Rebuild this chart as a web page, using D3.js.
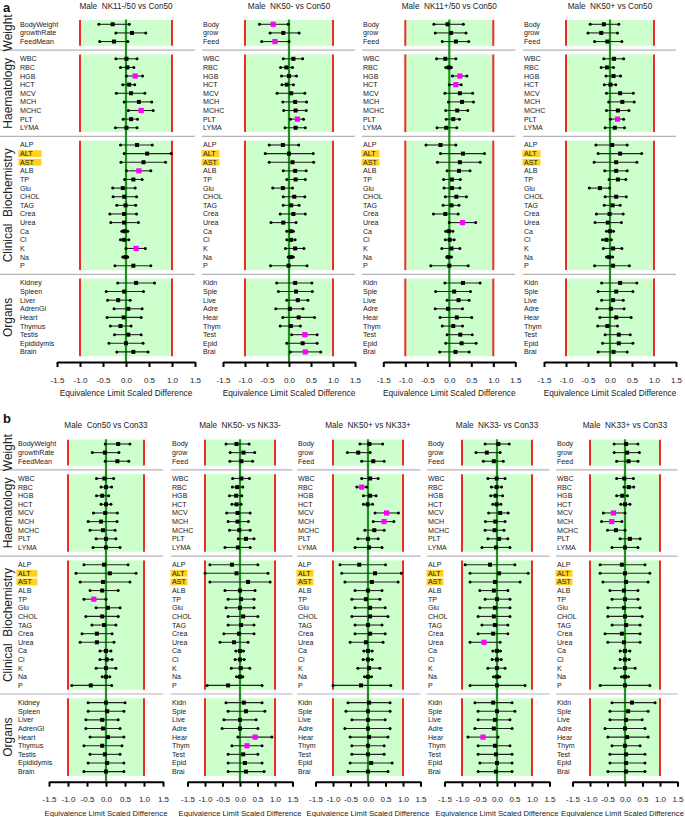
<!DOCTYPE html>
<html><head><meta charset="utf-8">
<script src="https://cdn.jsdelivr.net/npm/d3@7"></script>
<style>
body{margin:0;background:#fff;}
text{font-family:"Liberation Sans",Arial,Helvetica,sans-serif;fill:#111;}
</style>
</head><body>
<svg id="chart" width="685" height="817"></svg>
<script>
// ---------- categories ----------
const labelsFull = ["BodyWeight","growthRate","FeedMean",
  "WBC","RBC","HGB","HCT","MCV","MCH","MCHC","PLT","LYMA",
  "ALP","ALT","AST","ALB","TP","Glu","CHOL","TAG","Crea","Urea","Ca","Cl","K","Na","P",
  "Kidney","Spleen","Liver","AdrenGl","Heart","Thymus","Testis","Epididymis","Brain"];
const labelsShort = ["Body","grow","Feed",
  "WBC","RBC","HGB","HCT","MCV","MCH","MCHC","PLT","LYMA",
  "ALP","ALT","AST","ALB","TP","Glu","CHOL","TAG","Crea","Urea","Ca","Cl","K","Na","P",
  "Kidn","Sple","Live","Adre","Hear","Thym","Test","Epid","Brai"];
const groupNames = ["Weight","Haematology","Clinical  Biochemistry","Organs"];
const groupSizes = [3,9,15,9];
const highlighted = ["ALT","AST"];
const tickValues = [-1.5,-1.0,-0.5,0.0,0.5,1.0,1.5];
const axisTitle = "Equivalence Limit Scaled Difference";
const panelLetters = ["a","b"];
const titlesA = ["Male  NK11-/50 vs Con50","Male  NK50- vs Con50","Male  NK11+/50 vs Con50","Male  NK50+ vs Con50"];
const titlesB = ["Male  Con50 vs Con33","Male  NK50- vs NK33-","Male  NK50+ vs NK33+","Male  NK33- vs Con33","Male  NK33+ vs Con33"];

// ---------- series values: [lower, estimate, upper] per row ----------
const a1 = [[-0.59,-0.29,0.07],[-0.22,0.13,0.43],[-0.57,-0.26,0.04],
 [-0.22,0.01,0.24],[-0.12,0.03,0.17],[0.01,0.20,0.36],[-0.07,0.07,0.19],[-0.21,0.11,0.41],[-0.04,0.28,0.56],[0.05,0.33,0.59],[-0.06,0.11,0.25],[-0.23,0.01,0.24],
 [-0.12,0.24,0.57],[-0.04,0.46,0.98],[-0.11,0.38,0.86],[0.01,0.28,0.54],[-0.03,0.16,0.35],[-0.29,-0.07,0.20],[-0.28,-0.04,0.23],[-0.20,-0.01,0.21],[-0.35,-0.04,0.23],[-0.33,-0.04,0.27],[-0.09,-0.03,0.04],[-0.12,-0.04,0.06],[0.00,0.22,0.42],[-0.07,-0.01,0.04],[-0.24,0.16,0.54],
 [-0.18,0.22,0.62],[-0.43,-0.04,0.38],[-0.40,-0.17,0.09],[-0.26,0.05,0.35],[-0.41,-0.05,0.33],[-0.34,-0.12,0.11],[-0.25,0.05,0.33],[-0.37,0.00,0.37],[-0.20,0.16,0.48]];
const a1Sig = ["HGB","MCHC","ALB","K"];

const a2 = [[-0.67,-0.36,-0.02],[-0.43,-0.13,0.23],[-0.62,-0.32,0.00],
 [-0.13,0.10,0.31],[-0.19,-0.06,0.08],[-0.17,0.00,0.17],[-0.16,-0.05,0.10],[-0.27,0.05,0.36],[-0.14,0.14,0.40],[-0.12,0.15,0.39],[0.03,0.19,0.33],[-0.09,0.15,0.37],
 [-0.45,-0.14,0.22],[-0.54,0.00,0.55],[-0.45,0.08,0.56],[-0.13,0.14,0.39],[-0.05,0.15,0.37],[-0.37,-0.14,0.08],[-0.13,0.12,0.36],[-0.13,0.05,0.23],[-0.20,0.10,0.37],[-0.41,-0.13,0.16],[-0.05,0.04,0.10],[-0.05,0.05,0.14],[-0.08,0.14,0.34],[-0.02,0.04,0.10],[-0.42,-0.01,0.41],
 [-0.28,0.14,0.52],[-0.24,0.16,0.53],[-0.05,0.20,0.43],[-0.30,0.02,0.32],[-0.14,0.22,0.58],[-0.20,0.04,0.26],[0.06,0.36,0.64],[-0.05,0.31,0.64],[0.03,0.37,0.72]];
const a2Sig = ["BodyWeight","FeedMean","PLT","Testis","Brain"];

const a3 = [[-0.35,-0.04,0.32],[-0.32,0.04,0.38],[-0.16,0.15,0.44],
 [-0.29,-0.09,0.15],[-0.08,-0.01,0.05],[0.07,0.24,0.40],[0.00,0.15,0.27],[-0.10,0.24,0.53],[-0.02,0.29,0.55],[-0.08,0.18,0.42],[-0.07,0.09,0.23],[-0.28,-0.07,0.17],
 [-0.53,-0.20,0.15],[-0.20,0.31,0.80],[-0.27,0.24,0.70],[-0.05,0.22,0.47],[-0.13,0.06,0.25],[-0.12,0.06,0.24],[-0.09,0.16,0.39],[-0.14,0.05,0.22],[-0.36,-0.09,0.20],[0.00,0.30,0.60],[-0.08,-0.01,0.08],[-0.09,0.01,0.11],[-0.17,0.05,0.24],[-0.06,-0.02,0.05],[-0.42,0.00,0.43],
 [-0.10,0.31,0.70],[-0.31,0.11,0.48],[-0.05,0.21,0.45],[-0.32,-0.03,0.30],[-0.21,0.17,0.51],[-0.16,0.09,0.30],[-0.05,0.25,0.52],[-0.08,0.28,0.61],[-0.22,0.14,0.45]];
const a3Sig = ["HGB","HCT","Urea"];

const a4 = [[-0.45,-0.14,0.20],[-0.50,-0.20,0.17],[-0.35,-0.06,0.27],
 [-0.14,0.09,0.31],[-0.20,-0.07,0.08],[-0.09,0.08,0.24],[-0.13,0.01,0.13],[-0.08,0.23,0.53],[-0.03,0.28,0.55],[-0.08,0.18,0.43],[0.01,0.17,0.31],[-0.11,0.11,0.33],
 [-0.32,0.05,0.39],[-0.27,0.23,0.72],[-0.36,0.14,0.61],[-0.12,0.14,0.39],[-0.02,0.18,0.36],[-0.47,-0.23,-0.01],[-0.11,0.14,0.37],[-0.13,0.06,0.23],[-0.31,-0.01,0.30],[-0.34,-0.05,0.26],[-0.08,0.00,0.08],[-0.17,-0.08,0.03],[-0.15,0.07,0.27],[-0.08,-0.02,0.06],[-0.35,0.07,0.44],
 [-0.19,0.23,0.61],[-0.27,0.14,0.52],[-0.19,0.07,0.30],[-0.30,0.02,0.32],[-0.23,0.14,0.48],[-0.28,-0.06,0.17],[-0.11,0.20,0.46],[-0.17,0.20,0.52],[-0.27,0.08,0.39]];
const a4Sig = ["PLT"];

const b1 = [[-0.02,0.32,0.63],[-0.36,-0.03,0.34],[-0.02,0.30,0.60],
 [-0.25,-0.04,0.20],[-0.13,0.00,0.15],[-0.25,-0.10,0.07],[-0.13,0.00,0.13],[-0.33,-0.02,0.30],[-0.47,-0.13,0.29],[-0.42,-0.08,0.24],[-0.26,0.00,0.26],[-0.34,0.00,0.37],
 [-0.58,-0.05,0.58],[-0.79,0.10,0.79],[-0.68,-0.08,0.63],[-0.42,-0.10,0.32],[-0.58,-0.32,0.00],[-0.26,0.05,0.37],[-0.53,-0.10,0.32],[-0.37,-0.05,0.26],[-0.63,-0.24,0.16],[-0.68,-0.24,0.21],[-0.16,0.00,0.13],[-0.16,0.02,0.16],[-0.26,0.00,0.26],[-0.10,0.00,0.10],[-0.90,-0.40,0.15],
 [-0.47,0.00,0.50],[-0.47,0.03,0.47],[-0.53,-0.10,0.32],[-0.53,-0.08,0.37],[-0.42,0.05,0.47],[-0.58,-0.10,0.42],[-0.42,-0.03,0.37],[-0.47,0.03,0.47],[-0.58,0.00,0.47]];
const b1Sig = ["TP"];

const b2 = [[-0.40,-0.10,0.26],[-0.28,0.10,0.42],[-0.29,0.04,0.36],
 [-0.21,0.04,0.27],[-0.22,-0.08,0.08],[-0.30,-0.11,0.05],[-0.23,-0.10,0.03],[-0.38,-0.07,0.29],[-0.34,-0.07,0.24],[-0.30,-0.02,0.29],[-0.05,0.17,0.40],[-0.43,-0.06,0.29],
 [-0.86,-0.23,0.51],[-1.00,-0.10,0.80],[-0.86,0.23,0.86],[-0.43,0.00,0.43],[-0.34,0.03,0.40],[-0.40,0.00,0.40],[-0.34,0.09,0.51],[-0.34,0.03,0.40],[-0.46,-0.03,0.40],[-0.57,-0.17,0.23],[-0.12,0.00,0.10],[-0.14,0.00,0.12],[-0.25,0.02,0.28],[-0.10,0.00,0.08],[-0.94,-0.34,0.63],
 [-0.40,0.11,0.63],[-0.34,0.17,0.71],[-0.46,0.00,0.46],[-0.51,0.00,0.51],[-0.06,0.43,0.91],[-0.23,0.20,0.63],[-0.34,0.09,0.51],[-0.34,0.14,0.63],[-0.34,0.17,0.69]];
const b2Sig = ["Heart","Thymus"];

const b3 = [[-0.23,0.04,0.42],[-0.59,-0.28,0.06],[-0.18,0.15,0.46],
 [-0.18,0.06,0.29],[-0.32,-0.18,-0.04],[-0.13,0.06,0.23],[-0.13,-0.01,0.13],[0.20,0.53,0.87],[0.15,0.46,0.74],[-0.09,0.18,0.46],[-0.29,0.00,0.29],[-0.37,0.03,0.40],
 [-0.80,-0.25,0.50],[-0.75,0.20,0.95],[-0.66,0.11,0.86],[-0.37,0.00,0.40],[-0.46,-0.06,0.34],[-0.37,0.06,0.49],[-0.46,0.06,0.57],[-0.37,0.00,0.40],[-0.37,0.06,0.49],[-0.51,-0.06,0.43],[-0.12,0.00,0.12],[-0.14,0.00,0.12],[-0.29,0.03,0.34],[-0.10,0.00,0.10],[-1.00,-0.20,0.65],
 [-0.57,0.03,0.63],[-0.63,0.00,0.63],[-0.46,0.00,0.49],[-0.66,0.00,0.63],[-0.51,0.03,0.57],[-0.46,0.00,0.46],[-0.46,0.00,0.46],[-0.51,0.09,0.69],[-0.57,0.00,0.57]];
const b3Sig = ["RBC","MCV","MCH"];

const b4 = [[-0.34,0.04,0.35],[-0.60,-0.29,0.09],[-0.39,-0.09,0.18],
 [-0.26,-0.01,0.23],[-0.16,-0.01,0.13],[-0.18,-0.04,0.16],[-0.12,-0.01,0.11],[-0.24,0.09,0.32],[-0.33,-0.05,0.23],[-0.34,-0.07,0.20],[-0.26,0.06,0.31],[-0.43,-0.03,0.37],
 [-0.91,-0.20,0.51],[-0.77,0.06,0.89],[-0.77,-0.06,0.66],[-0.49,-0.09,0.31],[-0.34,0.00,0.37],[-0.49,-0.06,0.37],[-0.54,-0.09,0.37],[-0.43,-0.06,0.31],[-0.54,-0.11,0.31],[-0.77,-0.37,0.09],[-0.12,0.00,0.10],[-0.14,0.00,0.12],[-0.26,0.00,0.23],[-0.10,0.00,0.08],[-0.77,0.00,0.80],
 [-0.63,-0.11,0.43],[-0.54,0.00,0.51],[-0.54,-0.06,0.37],[-0.63,-0.09,0.43],[-0.83,-0.40,0.03],[-0.54,-0.06,0.37],[-0.54,-0.03,0.43],[-0.49,0.00,0.43],[-0.54,-0.03,0.43]];
const b4Sig = ["Urea","Heart"];

const b5 = [[-0.31,0.03,0.37],[-0.31,0.06,0.41],[-0.24,0.10,0.37],
 [-0.24,-0.02,0.24],[-0.03,0.11,0.25],[-0.24,-0.08,0.07],[-0.12,0.00,0.14],[-0.62,-0.33,0.00],[-0.67,-0.38,-0.09],[-0.50,-0.26,0.00],[-0.14,0.14,0.43],[-0.37,0.00,0.37],
 [-0.71,-0.09,0.57],[-0.71,0.00,0.71],[-0.63,0.03,0.66],[-0.43,-0.03,0.37],[-0.37,0.00,0.37],[-0.49,-0.03,0.43],[-0.49,0.00,0.49],[-0.37,0.03,0.43],[-0.57,-0.09,0.43],[-0.49,-0.03,0.43],[-0.14,0.00,0.14],[-0.14,0.00,0.12],[-0.29,0.00,0.29],[-0.10,0.00,0.10],[-0.71,0.00,0.71],
 [-0.37,0.20,0.86],[-0.43,0.09,0.66],[-0.43,0.03,0.49],[-0.57,0.00,0.57],[-0.49,0.06,0.66],[-0.37,0.00,0.43],[-0.43,0.03,0.57],[-0.43,0.03,0.57],[-0.49,0.03,0.57]];
const b5Sig = ["MCV","MCH"];

// ---------- layout (pixels) ----------
const panels = [
  {letter:panelLetters[0], yOff:0, letterY:12, axisFont:8.3, subs:[
    {data:a1, sig:a1Sig, title:titlesA[0], x0:126, u:46, labelX:20, sepStart:0, full:true, hlW:23},
    {data:a2, sig:a2Sig, title:titlesA[1], x0:289, u:44, labelX:203, sepStart:202, full:false, hlW:18},
    {data:a3, sig:a3Sig, title:titlesA[2], x0:449.3, u:44, labelX:363, sepStart:362, full:false, hlW:18},
    {data:a4, sig:a4Sig, title:titlesA[3], x0:610, u:44, labelX:524, sepStart:523, full:false, hlW:18}]},
  {letter:panelLetters[1], yOff:419.7, letterY:423, axisFont:7.7, subs:[
    {data:b1, sig:b1Sig, title:titlesB[0], x0:106, u:38, labelX:18, sepStart:0, full:true, hlW:21},
    {data:b2, sig:b2Sig, title:titlesB[1], x0:240, u:35, labelX:172, sepStart:171, full:false, hlW:17},
    {data:b3, sig:b3Sig, title:titlesB[2], x0:368, u:35, labelX:298, sepStart:297, full:false, hlW:17},
    {data:b4, sig:b4Sig, title:titlesB[3], x0:497, u:35, labelX:428, sepStart:427, full:false, hlW:17},
    {data:b5, sig:b5Sig, title:titlesB[4], x0:625, u:35, labelX:557, sepStart:556, full:false, hlW:17}]}
];

const svg = d3.select("#chart");
const SLOT0 = 24.3, SLOTN = 351.9, NSLOT = 38;

// slot index of each row (one blank slot between groups)
const slotOf = [];
groupSizes.forEach((n, g) => {
  const start = d3.sum(groupSizes.slice(0, g)) + g;
  for (let i = 0; i < n; i++) slotOf.push(start + i);
});
const groupRanges = groupSizes.map((n, g) => {
  const start = d3.sum(groupSizes.slice(0, g)) + g;
  return [start, start + n - 1];
});

panels.forEach(p => {
  svg.append("text").attr("x", 3).attr("y", p.letterY)
    .style("font-size", "13px").style("font-weight", "bold").text(p.letter);
  p.subs.forEach(s => {
    const g = svg.append("g");
    const x = d3.scaleLinear().domain([-1.5, 1.5]).range([s.x0 - 1.5 * s.u, s.x0 + 1.5 * s.u]);
    const y = d3.scaleLinear().domain([0, NSLOT]).range([p.yOff + SLOT0, p.yOff + SLOTN]);
    const axisY = p.yOff + 362;
    const labels = s.full ? labelsFull : labelsShort;

    // green equivalence boxes
    g.selectAll("rect.box").data(groupRanges).join("rect").attr("class", "box")
      .attr("x", x(-1)).attr("width", x(1) - x(-1))
      .attr("y", d => y(d[0] - 0.5)).attr("height", d => y(d[1] + 0.5) - y(d[0] - 0.5))
      .attr("fill", "#ccffcc");
    // red limit lines
    groupRanges.forEach(r => {
      [-1, 1].forEach(v => {
        g.append("line").attr("x1", x(v)).attr("x2", x(v))
          .attr("y1", y(r[0] - 0.5)).attr("y2", y(r[1] + 0.5))
          .attr("stroke", "#ee2a2a").attr("stroke-width", 2);
      });
    });
    // grey separators
    groupRanges.slice(1).forEach(r => {
      g.append("line").attr("x1", s.sepStart).attr("x2", x(1.5))
        .attr("y1", y(r[0] - 1)).attr("y2", y(r[0] - 1))
        .attr("stroke", "#b4b4b4").attr("stroke-width", 1.2);
    });
    // zero line
    g.append("line").attr("x1", x(0)).attr("x2", x(0))
      .attr("y1", y(-0.55)).attr("y2", axisY)
      .attr("stroke", "#1f8f1f").attr("stroke-width", 2.2);

    // row labels + highlight
    labels.forEach((lab, i) => {
      if (highlighted.includes(lab)) {
        g.append("rect").attr("x", s.labelX - 1.5).attr("y", y(slotOf[i]) - 3.4)
          .attr("width", s.hlW).attr("height", 6.8).attr("fill", "#ffd21f");
      }
      g.append("text").attr("x", s.labelX).attr("y", y(slotOf[i]))
        .attr("dy", "0.35em").style("font-size", "7.1px").style("fill", "#222").text(lab);
    });

    // error bars
    const rows = s.data.map((d, i) => ({lo: d[0], mid: d[1], hi: d[2], slot: slotOf[i], sig: s.sig.includes(labelsFull[i])}));
    g.selectAll("line.ci").data(rows).join("line").attr("class", "ci")
      .attr("x1", d => x(d.lo)).attr("x2", d => x(d.hi))
      .attr("y1", d => y(d.slot)).attr("y2", d => y(d.slot))
      .attr("stroke", "#222").attr("stroke-width", 1.1);
    g.selectAll("circle.lo").data(rows).join("circle").attr("class", "lo")
      .attr("cx", d => x(d.lo)).attr("cy", d => y(d.slot)).attr("r", 1.5).attr("fill", "#000");
    g.selectAll("circle.hi").data(rows).join("circle").attr("class", "hi")
      .attr("cx", d => x(d.hi)).attr("cy", d => y(d.slot)).attr("r", 1.5).attr("fill", "#000");
    g.selectAll("rect.mid").data(rows).join("rect").attr("class", "mid")
      .attr("x", d => x(d.mid) - (d.sig ? 2.6 : 2)).attr("y", d => y(d.slot) - (d.sig ? 2.6 : 2))
      .attr("width", d => d.sig ? 5.2 : 4).attr("height", d => d.sig ? 5.2 : 4)
      .attr("fill", d => d.sig ? "#ff00ff" : "#000");

    // group labels (first sub only)
    if (s.full) {
      groupRanges.forEach((r, gi) => {
        const cy = y((r[0] + r[1]) / 2);
        g.append("text").attr("transform", `translate(12,${cy}) rotate(-90)`)
          .attr("text-anchor", "middle").style("font-size", "12px").style("fill", "#222")
          .style("white-space", "pre").text(groupNames[gi]);
      });
    }

    // axis
    const ax = g.append("g").attr("transform", `translate(0,${axisY})`)
      .call(d3.axisBottom(x).tickValues(tickValues).tickFormat(d => d.toFixed(1))
        .tickSizeInner(5).tickSizeOuter(0).tickPadding(10));
    ax.select(".domain").attr("stroke", "#000").attr("stroke-width", 2);
    ax.selectAll(".tick line").attr("stroke", "#000").attr("stroke-width", 2);
    ax.selectAll(".tick text").style("font-size", "8px").style("fill", "#222")
      .style("font-family", "'Liberation Sans',Arial,sans-serif");
    const at = g.append("text").attr("x", x(0)).attr("y", p.yOff + 396).attr("text-anchor", "middle")
      .style("font-size", p.axisFont + "px").style("fill", "#222").text(axisTitle);
    const w = at.node().getComputedTextLength();
    if (x(0) + w / 2 > 684) at.attr("x", 684 - w / 2);
    // title
    g.append("text").attr("x", x(0)).attr("y", p.yOff + 8.5).attr("text-anchor", "middle")
      .style("font-size", "8.2px").style("white-space", "pre").style("fill", "#222").text(s.title);
  });
});
</script>
</body></html>
